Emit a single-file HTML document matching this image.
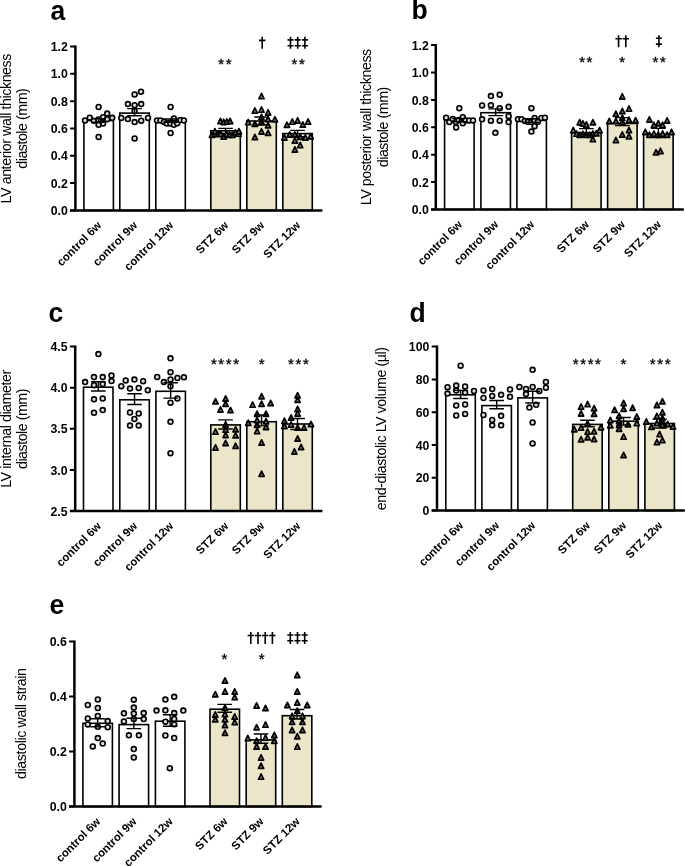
<!DOCTYPE html>
<html><head><meta charset="utf-8"><style>
html,body{margin:0;padding:0;background:#fff;}
svg{display:block;will-change:transform;}
text{font-family:"Liberation Sans", sans-serif;fill:#000;}
</style></head><body>
<svg width="685" height="866" viewBox="0 0 685 866">
<text transform="translate(50.6,19.8) scale(1,1.05)" font-size="26.5" font-weight="bold">a</text>
<text transform="translate(10.5,128.5) rotate(-90)" text-anchor="middle" font-size="14.2" textLength="149.8" lengthAdjust="spacing">LV anterior wall thickness</text>
<text transform="translate(27,128.5) rotate(-90)" text-anchor="middle" font-size="14.2" textLength="80.5" lengthAdjust="spacing">diastole (mm)</text>
<rect x="83.9" y="120.5" width="29.5" height="89.9" fill="white" stroke="#000" stroke-width="1.6"/>
<rect x="119.8" y="113.1" width="29.5" height="97.3" fill="white" stroke="#000" stroke-width="1.6"/>
<rect x="155.8" y="120.6" width="29.5" height="89.8" fill="white" stroke="#000" stroke-width="1.6"/>
<rect x="210.8" y="130.8" width="29.5" height="79.6" fill="#EBE5C9" stroke="#000" stroke-width="1.6"/>
<rect x="246.8" y="121" width="29.5" height="89.4" fill="#EBE5C9" stroke="#000" stroke-width="1.6"/>
<rect x="282.8" y="133.6" width="29.5" height="76.8" fill="#EBE5C9" stroke="#000" stroke-width="1.6"/>
<circle cx="98.6" cy="107" r="2.45" fill="#ddd" stroke="#000" stroke-width="1.6"/>
<circle cx="85" cy="120.4" r="2.45" fill="#ddd" stroke="#000" stroke-width="1.6"/>
<circle cx="89.7" cy="117.7" r="2.45" fill="#ddd" stroke="#000" stroke-width="1.6"/>
<circle cx="93.8" cy="120.7" r="2.45" fill="#ddd" stroke="#000" stroke-width="1.6"/>
<circle cx="98.4" cy="119.5" r="2.45" fill="#ddd" stroke="#000" stroke-width="1.6"/>
<circle cx="103.1" cy="117.2" r="2.45" fill="#ddd" stroke="#000" stroke-width="1.6"/>
<circle cx="103.1" cy="123.6" r="2.45" fill="#ddd" stroke="#000" stroke-width="1.6"/>
<circle cx="98.6" cy="124.8" r="2.45" fill="#ddd" stroke="#000" stroke-width="1.6"/>
<circle cx="107.2" cy="113.6" r="2.45" fill="#ddd" stroke="#000" stroke-width="1.6"/>
<circle cx="107.2" cy="119.2" r="2.45" fill="#ddd" stroke="#000" stroke-width="1.6"/>
<circle cx="112.2" cy="117.8" r="2.45" fill="#ddd" stroke="#000" stroke-width="1.6"/>
<circle cx="98.6" cy="137" r="2.45" fill="#ddd" stroke="#000" stroke-width="1.6"/>
<circle cx="141" cy="91.7" r="2.45" fill="#ddd" stroke="#000" stroke-width="1.6"/>
<circle cx="134.6" cy="94.5" r="2.45" fill="#ddd" stroke="#000" stroke-width="1.6"/>
<circle cx="127.9" cy="104.1" r="2.45" fill="#ddd" stroke="#000" stroke-width="1.6"/>
<circle cx="134.6" cy="105.2" r="2.45" fill="#ddd" stroke="#000" stroke-width="1.6"/>
<circle cx="141.2" cy="104.1" r="2.45" fill="#ddd" stroke="#000" stroke-width="1.6"/>
<circle cx="134.6" cy="111" r="2.45" fill="#ddd" stroke="#000" stroke-width="1.6"/>
<circle cx="121.3" cy="117.9" r="2.45" fill="#ddd" stroke="#000" stroke-width="1.6"/>
<circle cx="127.9" cy="119.1" r="2.45" fill="#ddd" stroke="#000" stroke-width="1.6"/>
<circle cx="134.6" cy="122.1" r="2.45" fill="#ddd" stroke="#000" stroke-width="1.6"/>
<circle cx="141.2" cy="120.7" r="2.45" fill="#ddd" stroke="#000" stroke-width="1.6"/>
<circle cx="148" cy="117.9" r="2.45" fill="#ddd" stroke="#000" stroke-width="1.6"/>
<circle cx="134.6" cy="138.4" r="2.45" fill="#ddd" stroke="#000" stroke-width="1.6"/>
<circle cx="170.6" cy="107" r="2.45" fill="#ddd" stroke="#000" stroke-width="1.6"/>
<circle cx="157" cy="120.4" r="2.45" fill="#ddd" stroke="#000" stroke-width="1.6"/>
<circle cx="160.5" cy="120.4" r="2.45" fill="#ddd" stroke="#000" stroke-width="1.6"/>
<circle cx="164" cy="121.9" r="2.45" fill="#ddd" stroke="#000" stroke-width="1.6"/>
<circle cx="166.9" cy="123.6" r="2.45" fill="#ddd" stroke="#000" stroke-width="1.6"/>
<circle cx="170.4" cy="123.6" r="2.45" fill="#ddd" stroke="#000" stroke-width="1.6"/>
<circle cx="173.9" cy="118.4" r="2.45" fill="#ddd" stroke="#000" stroke-width="1.6"/>
<circle cx="173.9" cy="124.8" r="2.45" fill="#ddd" stroke="#000" stroke-width="1.6"/>
<circle cx="177.2" cy="123.3" r="2.45" fill="#ddd" stroke="#000" stroke-width="1.6"/>
<circle cx="180.4" cy="120.1" r="2.45" fill="#ddd" stroke="#000" stroke-width="1.6"/>
<circle cx="183.9" cy="120.4" r="2.45" fill="#ddd" stroke="#000" stroke-width="1.6"/>
<circle cx="170.6" cy="133" r="2.45" fill="#ddd" stroke="#000" stroke-width="1.6"/>
<path d="M220.5 118.35L223.1 123.65L217.9 123.65Z" fill="#777" stroke="#000" stroke-width="1.7" stroke-linejoin="round"/>
<path d="M223.7 119.25L226.3 124.55L221.1 124.55Z" fill="#777" stroke="#000" stroke-width="1.7" stroke-linejoin="round"/>
<path d="M226.9 118.95L229.5 124.25L224.3 124.25Z" fill="#777" stroke="#000" stroke-width="1.7" stroke-linejoin="round"/>
<path d="M230.1 118.35L232.7 123.65L227.5 123.65Z" fill="#777" stroke="#000" stroke-width="1.7" stroke-linejoin="round"/>
<path d="M212 132.15L214.6 137.45L209.4 137.45Z" fill="#777" stroke="#000" stroke-width="1.7" stroke-linejoin="round"/>
<path d="M215.2 131.25L217.8 136.55L212.6 136.55Z" fill="#777" stroke="#000" stroke-width="1.7" stroke-linejoin="round"/>
<path d="M218.4 130.95L221 136.25L215.8 136.25Z" fill="#777" stroke="#000" stroke-width="1.7" stroke-linejoin="round"/>
<path d="M220.8 131.25L223.4 136.55L218.2 136.55Z" fill="#777" stroke="#000" stroke-width="1.7" stroke-linejoin="round"/>
<path d="M223.7 133.85L226.3 139.15L221.1 139.15Z" fill="#777" stroke="#000" stroke-width="1.7" stroke-linejoin="round"/>
<path d="M226.6 131.25L229.2 136.55L224 136.55Z" fill="#777" stroke="#000" stroke-width="1.7" stroke-linejoin="round"/>
<path d="M229.5 132.15L232.1 137.45L226.9 137.45Z" fill="#777" stroke="#000" stroke-width="1.7" stroke-linejoin="round"/>
<path d="M232.4 132.15L235 137.45L229.8 137.45Z" fill="#777" stroke="#000" stroke-width="1.7" stroke-linejoin="round"/>
<path d="M235.4 129.75L238 135.05L232.8 135.05Z" fill="#777" stroke="#000" stroke-width="1.7" stroke-linejoin="round"/>
<path d="M238.6 130.95L241.2 136.25L236 136.25Z" fill="#777" stroke="#000" stroke-width="1.7" stroke-linejoin="round"/>
<path d="M214.9 128.55L217.5 133.85L212.3 133.85Z" fill="#777" stroke="#000" stroke-width="1.7" stroke-linejoin="round"/>
<path d="M238.9 128.55L241.5 133.85L236.3 133.85Z" fill="#777" stroke="#000" stroke-width="1.7" stroke-linejoin="round"/>
<path d="M261.5 93.45L264.1 98.75L258.9 98.75Z" fill="#777" stroke="#000" stroke-width="1.7" stroke-linejoin="round"/>
<path d="M254.9 107.95L257.5 113.25L252.3 113.25Z" fill="#777" stroke="#000" stroke-width="1.7" stroke-linejoin="round"/>
<path d="M261.5 106.95L264.1 112.25L258.9 112.25Z" fill="#777" stroke="#000" stroke-width="1.7" stroke-linejoin="round"/>
<path d="M268.1 109.75L270.7 115.05L265.5 115.05Z" fill="#777" stroke="#000" stroke-width="1.7" stroke-linejoin="round"/>
<path d="M261.5 114.25L264.1 119.55L258.9 119.55Z" fill="#777" stroke="#000" stroke-width="1.7" stroke-linejoin="round"/>
<path d="M268.1 116.35L270.7 121.65L265.5 121.65Z" fill="#777" stroke="#000" stroke-width="1.7" stroke-linejoin="round"/>
<path d="M274.9 116.65L277.5 121.95L272.3 121.95Z" fill="#777" stroke="#000" stroke-width="1.7" stroke-linejoin="round"/>
<path d="M248.2 119.45L250.8 124.75L245.6 124.75Z" fill="#777" stroke="#000" stroke-width="1.7" stroke-linejoin="round"/>
<path d="M254.9 121.15L257.5 126.45L252.3 126.45Z" fill="#777" stroke="#000" stroke-width="1.7" stroke-linejoin="round"/>
<path d="M261.5 119.05L264.1 124.35L258.9 124.35Z" fill="#777" stroke="#000" stroke-width="1.7" stroke-linejoin="round"/>
<path d="M268.1 122.55L270.7 127.85L265.5 127.85Z" fill="#777" stroke="#000" stroke-width="1.7" stroke-linejoin="round"/>
<path d="M261.5 128.75L264.1 134.05L258.9 134.05Z" fill="#777" stroke="#000" stroke-width="1.7" stroke-linejoin="round"/>
<path d="M268.1 130.15L270.7 135.45L265.5 135.45Z" fill="#777" stroke="#000" stroke-width="1.7" stroke-linejoin="round"/>
<path d="M254.9 134.35L257.5 139.65L252.3 139.65Z" fill="#777" stroke="#000" stroke-width="1.7" stroke-linejoin="round"/>
<path d="M287 122.15L289.6 127.45L284.4 127.45Z" fill="#777" stroke="#000" stroke-width="1.7" stroke-linejoin="round"/>
<path d="M292.3 118.95L294.9 124.25L289.7 124.25Z" fill="#777" stroke="#000" stroke-width="1.7" stroke-linejoin="round"/>
<path d="M297.6 117.75L300.2 123.05L295 123.05Z" fill="#777" stroke="#000" stroke-width="1.7" stroke-linejoin="round"/>
<path d="M302.8 121.85L305.4 127.15L300.2 127.15Z" fill="#777" stroke="#000" stroke-width="1.7" stroke-linejoin="round"/>
<path d="M308.1 118.95L310.7 124.25L305.5 124.25Z" fill="#777" stroke="#000" stroke-width="1.7" stroke-linejoin="round"/>
<path d="M284.4 134.75L287 140.05L281.8 140.05Z" fill="#777" stroke="#000" stroke-width="1.7" stroke-linejoin="round"/>
<path d="M289.7 131.85L292.3 137.15L287.1 137.15Z" fill="#777" stroke="#000" stroke-width="1.7" stroke-linejoin="round"/>
<path d="M294.9 131.85L297.5 137.15L292.3 137.15Z" fill="#777" stroke="#000" stroke-width="1.7" stroke-linejoin="round"/>
<path d="M300.2 134.15L302.8 139.45L297.6 139.45Z" fill="#777" stroke="#000" stroke-width="1.7" stroke-linejoin="round"/>
<path d="M305.4 134.75L308 140.05L302.8 140.05Z" fill="#777" stroke="#000" stroke-width="1.7" stroke-linejoin="round"/>
<path d="M310.7 133.55L313.3 138.85L308.1 138.85Z" fill="#777" stroke="#000" stroke-width="1.7" stroke-linejoin="round"/>
<path d="M294.9 137.85L297.5 143.15L292.3 143.15Z" fill="#777" stroke="#000" stroke-width="1.7" stroke-linejoin="round"/>
<path d="M300.2 142.45L302.8 147.75L297.6 147.75Z" fill="#777" stroke="#000" stroke-width="1.7" stroke-linejoin="round"/>
<path d="M294.9 146.85L297.5 152.15L292.3 152.15Z" fill="#777" stroke="#000" stroke-width="1.7" stroke-linejoin="round"/>
<path d="M98.65 118.8V122.2M91.35 118.8H105.95M91.35 122.2H105.95" stroke="#000" stroke-width="1.4" fill="none"/>
<path d="M134.55 108.6V115.8M127.25 108.6H141.85M127.25 115.8H141.85" stroke="#000" stroke-width="1.4" fill="none"/>
<path d="M170.55 119V122.4M163.25 119H177.85M163.25 122.4H177.85" stroke="#000" stroke-width="1.4" fill="none"/>
<path d="M225.55 128.4V133.4M218.25 128.4H232.85M218.25 133.4H232.85" stroke="#000" stroke-width="1.4" fill="none"/>
<path d="M261.55 117V125M254.25 117H268.85M254.25 125H268.85" stroke="#000" stroke-width="1.4" fill="none"/>
<path d="M297.55 130.4V136.6M290.25 130.4H304.85M290.25 136.6H304.85" stroke="#000" stroke-width="1.4" fill="none"/>
<path d="M75.4 45.5V210.4M70.1 210.4H322.4" stroke="#000" stroke-width="2.5" fill="none" stroke-linecap="butt"/>
<text x="67.8" y="215" text-anchor="end" font-size="12.3" font-weight="bold">0.0</text>
<text x="67.8" y="187.68" text-anchor="end" font-size="12.3" font-weight="bold">0.2</text>
<text x="67.8" y="160.37" text-anchor="end" font-size="12.3" font-weight="bold">0.4</text>
<text x="67.8" y="133.05" text-anchor="end" font-size="12.3" font-weight="bold">0.6</text>
<text x="67.8" y="105.73" text-anchor="end" font-size="12.3" font-weight="bold">0.8</text>
<text x="67.8" y="78.42" text-anchor="end" font-size="12.3" font-weight="bold">1.0</text>
<text x="67.8" y="51.1" text-anchor="end" font-size="12.3" font-weight="bold">1.2</text>
<path d="M70.1 210.4H75.4M70.1 183.08H75.4M70.1 155.77H75.4M70.1 128.45H75.4M70.1 101.13H75.4M70.1 73.82H75.4M70.1 46.5H75.4" stroke="#000" stroke-width="2" fill="none"/>
<text transform="translate(102.15,226) rotate(-45)" text-anchor="end" font-size="11.5" font-weight="bold">control 6w</text>
<text transform="translate(138.05,226) rotate(-45)" text-anchor="end" font-size="11.5" font-weight="bold">control 9w</text>
<text transform="translate(174.05,226) rotate(-45)" text-anchor="end" font-size="11.5" font-weight="bold">control 12w</text>
<text transform="translate(229.05,226) rotate(-45)" text-anchor="end" font-size="11.5" font-weight="bold">STZ 6w</text>
<text transform="translate(265.05,226) rotate(-45)" text-anchor="end" font-size="11.5" font-weight="bold">STZ 9w</text>
<text transform="translate(301.05,226) rotate(-45)" text-anchor="end" font-size="11.5" font-weight="bold">STZ 12w</text>
<text x="225.8" y="69.3" text-anchor="middle" font-size="15.0" font-weight="normal" letter-spacing="1.6" stroke="#000" stroke-width="0.35">**</text>
<path d="M262.2 36.8V48.8M259 40.4H265.4" stroke="#000" stroke-width="1.6" fill="none"/>
<path d="M290.5 36.8V48.8M287.5 39.92H293.5M287.5 45.68H293.5M297.7 36.8V48.8M294.7 39.92H300.7M294.7 45.68H300.7M304.9 36.8V48.8M301.9 39.92H307.9M301.9 45.68H307.9" stroke="#000" stroke-width="1.6" fill="none"/>
<text x="298.9" y="69.3" text-anchor="middle" font-size="15.0" font-weight="normal" letter-spacing="1.6" stroke="#000" stroke-width="0.35">**</text>
<text transform="translate(411.4,19.2) scale(1,1.05)" font-size="26.5" font-weight="bold">b</text>
<text transform="translate(370.8,127) rotate(-90)" text-anchor="middle" font-size="14.2" textLength="156.4" lengthAdjust="spacing">LV posterior wall thickness</text>
<text transform="translate(387.5,127) rotate(-90)" text-anchor="middle" font-size="14.2" textLength="80.5" lengthAdjust="spacing">diastole (mm)</text>
<rect x="444.6" y="120" width="29.5" height="89.5" fill="white" stroke="#000" stroke-width="1.6"/>
<rect x="480.9" y="112.7" width="29.5" height="96.8" fill="white" stroke="#000" stroke-width="1.6"/>
<rect x="516.9" y="120.4" width="29.5" height="89.1" fill="white" stroke="#000" stroke-width="1.6"/>
<rect x="571.6" y="132.7" width="29.5" height="76.8" fill="#EBE5C9" stroke="#000" stroke-width="1.6"/>
<rect x="607.6" y="123.4" width="29.5" height="86.1" fill="#EBE5C9" stroke="#000" stroke-width="1.6"/>
<rect x="643.6" y="134.2" width="29.5" height="75.3" fill="#EBE5C9" stroke="#000" stroke-width="1.6"/>
<circle cx="459.3" cy="108.2" r="2.45" fill="#ddd" stroke="#000" stroke-width="1.6"/>
<circle cx="446.1" cy="117.7" r="2.45" fill="#ddd" stroke="#000" stroke-width="1.6"/>
<circle cx="449.3" cy="122.1" r="2.45" fill="#ddd" stroke="#000" stroke-width="1.6"/>
<circle cx="452.8" cy="118.9" r="2.45" fill="#ddd" stroke="#000" stroke-width="1.6"/>
<circle cx="455.8" cy="122.1" r="2.45" fill="#ddd" stroke="#000" stroke-width="1.6"/>
<circle cx="458.7" cy="120.1" r="2.45" fill="#ddd" stroke="#000" stroke-width="1.6"/>
<circle cx="462.8" cy="117.2" r="2.45" fill="#ddd" stroke="#000" stroke-width="1.6"/>
<circle cx="462.8" cy="123.3" r="2.45" fill="#ddd" stroke="#000" stroke-width="1.6"/>
<circle cx="456.1" cy="127.4" r="2.45" fill="#ddd" stroke="#000" stroke-width="1.6"/>
<circle cx="465.7" cy="120.4" r="2.45" fill="#ddd" stroke="#000" stroke-width="1.6"/>
<circle cx="469.2" cy="120.4" r="2.45" fill="#ddd" stroke="#000" stroke-width="1.6"/>
<circle cx="473" cy="120.4" r="2.45" fill="#ddd" stroke="#000" stroke-width="1.6"/>
<circle cx="490.9" cy="96.1" r="2.45" fill="#ddd" stroke="#000" stroke-width="1.6"/>
<circle cx="499.7" cy="94.7" r="2.45" fill="#ddd" stroke="#000" stroke-width="1.6"/>
<circle cx="482.1" cy="105.4" r="2.45" fill="#ddd" stroke="#000" stroke-width="1.6"/>
<circle cx="490.9" cy="105.2" r="2.45" fill="#ddd" stroke="#000" stroke-width="1.6"/>
<circle cx="499.7" cy="108.2" r="2.45" fill="#ddd" stroke="#000" stroke-width="1.6"/>
<circle cx="508.6" cy="106.8" r="2.45" fill="#ddd" stroke="#000" stroke-width="1.6"/>
<circle cx="482.1" cy="119.3" r="2.45" fill="#ddd" stroke="#000" stroke-width="1.6"/>
<circle cx="490.9" cy="120.7" r="2.45" fill="#ddd" stroke="#000" stroke-width="1.6"/>
<circle cx="499.7" cy="120.7" r="2.45" fill="#ddd" stroke="#000" stroke-width="1.6"/>
<circle cx="508.6" cy="116.2" r="2.45" fill="#ddd" stroke="#000" stroke-width="1.6"/>
<circle cx="508.6" cy="122.1" r="2.45" fill="#ddd" stroke="#000" stroke-width="1.6"/>
<circle cx="495.4" cy="132.8" r="2.45" fill="#ddd" stroke="#000" stroke-width="1.6"/>
<circle cx="531.4" cy="108.2" r="2.45" fill="#ddd" stroke="#000" stroke-width="1.6"/>
<circle cx="518" cy="119.2" r="2.45" fill="#ddd" stroke="#000" stroke-width="1.6"/>
<circle cx="521.5" cy="119.2" r="2.45" fill="#ddd" stroke="#000" stroke-width="1.6"/>
<circle cx="525" cy="121" r="2.45" fill="#ddd" stroke="#000" stroke-width="1.6"/>
<circle cx="527.9" cy="121.8" r="2.45" fill="#ddd" stroke="#000" stroke-width="1.6"/>
<circle cx="531.4" cy="122.1" r="2.45" fill="#ddd" stroke="#000" stroke-width="1.6"/>
<circle cx="534.6" cy="118" r="2.45" fill="#ddd" stroke="#000" stroke-width="1.6"/>
<circle cx="534.6" cy="121" r="2.45" fill="#ddd" stroke="#000" stroke-width="1.6"/>
<circle cx="537.9" cy="121.8" r="2.45" fill="#ddd" stroke="#000" stroke-width="1.6"/>
<circle cx="541.4" cy="118" r="2.45" fill="#ddd" stroke="#000" stroke-width="1.6"/>
<circle cx="544.9" cy="117.7" r="2.45" fill="#ddd" stroke="#000" stroke-width="1.6"/>
<circle cx="534.6" cy="126.2" r="2.45" fill="#ddd" stroke="#000" stroke-width="1.6"/>
<circle cx="531.4" cy="131.6" r="2.45" fill="#ddd" stroke="#000" stroke-width="1.6"/>
<path d="M579.7 119.55L582.3 124.85L577.1 124.85Z" fill="#777" stroke="#000" stroke-width="1.7" stroke-linejoin="round"/>
<path d="M582.9 120.75L585.5 126.05L580.3 126.05Z" fill="#777" stroke="#000" stroke-width="1.7" stroke-linejoin="round"/>
<path d="M586.4 121.85L589 127.15L583.8 127.15Z" fill="#777" stroke="#000" stroke-width="1.7" stroke-linejoin="round"/>
<path d="M592.9 119.55L595.5 124.85L590.3 124.85Z" fill="#777" stroke="#000" stroke-width="1.7" stroke-linejoin="round"/>
<path d="M573.3 127.45L575.9 132.75L570.7 132.75Z" fill="#777" stroke="#000" stroke-width="1.7" stroke-linejoin="round"/>
<path d="M599.6 127.45L602.2 132.75L597 132.75Z" fill="#777" stroke="#000" stroke-width="1.7" stroke-linejoin="round"/>
<path d="M576.5 130.95L579.1 136.25L573.9 136.25Z" fill="#777" stroke="#000" stroke-width="1.7" stroke-linejoin="round"/>
<path d="M579.7 132.05L582.3 137.35L577.1 137.35Z" fill="#777" stroke="#000" stroke-width="1.7" stroke-linejoin="round"/>
<path d="M582.9 131.25L585.5 136.55L580.3 136.55Z" fill="#777" stroke="#000" stroke-width="1.7" stroke-linejoin="round"/>
<path d="M586.1 132.05L588.7 137.35L583.5 137.35Z" fill="#777" stroke="#000" stroke-width="1.7" stroke-linejoin="round"/>
<path d="M589.6 132.05L592.2 137.35L587 137.35Z" fill="#777" stroke="#000" stroke-width="1.7" stroke-linejoin="round"/>
<path d="M592.9 130.95L595.5 136.25L590.3 136.25Z" fill="#777" stroke="#000" stroke-width="1.7" stroke-linejoin="round"/>
<path d="M596.4 130.65L599 135.95L593.8 135.95Z" fill="#777" stroke="#000" stroke-width="1.7" stroke-linejoin="round"/>
<path d="M592.9 136.45L595.5 141.75L590.3 141.75Z" fill="#777" stroke="#000" stroke-width="1.7" stroke-linejoin="round"/>
<path d="M622.3 93.75L624.9 99.05L619.7 99.05Z" fill="#777" stroke="#000" stroke-width="1.7" stroke-linejoin="round"/>
<path d="M629 105.95L631.6 111.25L626.4 111.25Z" fill="#777" stroke="#000" stroke-width="1.7" stroke-linejoin="round"/>
<path d="M622.3 108.35L624.9 113.65L619.7 113.65Z" fill="#777" stroke="#000" stroke-width="1.7" stroke-linejoin="round"/>
<path d="M615.9 111.15L618.5 116.45L613.3 116.45Z" fill="#777" stroke="#000" stroke-width="1.7" stroke-linejoin="round"/>
<path d="M622.3 114.95L624.9 120.25L619.7 120.25Z" fill="#777" stroke="#000" stroke-width="1.7" stroke-linejoin="round"/>
<path d="M629 117.05L631.6 122.35L626.4 122.35Z" fill="#777" stroke="#000" stroke-width="1.7" stroke-linejoin="round"/>
<path d="M609.3 118.35L611.9 123.65L606.7 123.65Z" fill="#777" stroke="#000" stroke-width="1.7" stroke-linejoin="round"/>
<path d="M615.9 118.35L618.5 123.65L613.3 123.65Z" fill="#777" stroke="#000" stroke-width="1.7" stroke-linejoin="round"/>
<path d="M622.3 119.05L624.9 124.35L619.7 124.35Z" fill="#777" stroke="#000" stroke-width="1.7" stroke-linejoin="round"/>
<path d="M635.6 117.65L638.2 122.95L633 122.95Z" fill="#777" stroke="#000" stroke-width="1.7" stroke-linejoin="round"/>
<path d="M629 127.35L631.6 132.65L626.4 132.65Z" fill="#777" stroke="#000" stroke-width="1.7" stroke-linejoin="round"/>
<path d="M622.3 131.85L624.9 137.15L619.7 137.15Z" fill="#777" stroke="#000" stroke-width="1.7" stroke-linejoin="round"/>
<path d="M629 133.65L631.6 138.95L626.4 138.95Z" fill="#777" stroke="#000" stroke-width="1.7" stroke-linejoin="round"/>
<path d="M615.9 137.45L618.5 142.75L613.3 142.75Z" fill="#777" stroke="#000" stroke-width="1.7" stroke-linejoin="round"/>
<path d="M649.4 116.75L652 122.05L646.8 122.05Z" fill="#777" stroke="#000" stroke-width="1.7" stroke-linejoin="round"/>
<path d="M667.1 117.75L669.7 123.05L664.5 123.05Z" fill="#777" stroke="#000" stroke-width="1.7" stroke-linejoin="round"/>
<path d="M653.9 122.25L656.5 127.55L651.3 127.55Z" fill="#777" stroke="#000" stroke-width="1.7" stroke-linejoin="round"/>
<path d="M658.3 120.55L660.9 125.85L655.7 125.85Z" fill="#777" stroke="#000" stroke-width="1.7" stroke-linejoin="round"/>
<path d="M662.6 122.25L665.2 127.55L660 127.55Z" fill="#777" stroke="#000" stroke-width="1.7" stroke-linejoin="round"/>
<path d="M645.3 129.25L647.9 134.55L642.7 134.55Z" fill="#777" stroke="#000" stroke-width="1.7" stroke-linejoin="round"/>
<path d="M671.6 129.25L674.2 134.55L669 134.55Z" fill="#777" stroke="#000" stroke-width="1.7" stroke-linejoin="round"/>
<path d="M649.4 132.05L652 137.35L646.8 137.35Z" fill="#777" stroke="#000" stroke-width="1.7" stroke-linejoin="round"/>
<path d="M653.9 130.95L656.5 136.25L651.3 136.25Z" fill="#777" stroke="#000" stroke-width="1.7" stroke-linejoin="round"/>
<path d="M658.3 132.05L660.9 137.35L655.7 137.35Z" fill="#777" stroke="#000" stroke-width="1.7" stroke-linejoin="round"/>
<path d="M662.6 130.95L665.2 136.25L660 136.25Z" fill="#777" stroke="#000" stroke-width="1.7" stroke-linejoin="round"/>
<path d="M667.1 132.05L669.7 137.35L664.5 137.35Z" fill="#777" stroke="#000" stroke-width="1.7" stroke-linejoin="round"/>
<path d="M656 149.65L658.6 154.95L653.4 154.95Z" fill="#777" stroke="#000" stroke-width="1.7" stroke-linejoin="round"/>
<path d="M660.5 148.25L663.1 153.55L657.9 153.55Z" fill="#777" stroke="#000" stroke-width="1.7" stroke-linejoin="round"/>
<path d="M459.35 118.4V121.8M452.05 118.4H466.65M452.05 121.8H466.65" stroke="#000" stroke-width="1.4" fill="none"/>
<path d="M495.65 108.9V115.6M488.35 108.9H502.95M488.35 115.6H502.95" stroke="#000" stroke-width="1.4" fill="none"/>
<path d="M531.65 118.6V122.2M524.35 118.6H538.95M524.35 122.2H538.95" stroke="#000" stroke-width="1.4" fill="none"/>
<path d="M586.35 128.6V135M579.05 128.6H593.65M579.05 135H593.65" stroke="#000" stroke-width="1.4" fill="none"/>
<path d="M622.35 117.6V125.6M615.05 117.6H629.65M615.05 125.6H629.65" stroke="#000" stroke-width="1.4" fill="none"/>
<path d="M658.35 128.4V137.6M651.05 128.4H665.65M651.05 137.6H665.65" stroke="#000" stroke-width="1.4" fill="none"/>
<path d="M435.8 44.1V209.5M431.1 209.5H683.8" stroke="#000" stroke-width="2.5" fill="none" stroke-linecap="butt"/>
<text x="428.8" y="214.1" text-anchor="end" font-size="12.3" font-weight="bold">0.0</text>
<text x="428.8" y="186.7" text-anchor="end" font-size="12.3" font-weight="bold">0.2</text>
<text x="428.8" y="159.3" text-anchor="end" font-size="12.3" font-weight="bold">0.4</text>
<text x="428.8" y="131.9" text-anchor="end" font-size="12.3" font-weight="bold">0.6</text>
<text x="428.8" y="104.5" text-anchor="end" font-size="12.3" font-weight="bold">0.8</text>
<text x="428.8" y="77.1" text-anchor="end" font-size="12.3" font-weight="bold">1.0</text>
<text x="428.8" y="49.7" text-anchor="end" font-size="12.3" font-weight="bold">1.2</text>
<path d="M431.1 209.5H435.8M431.1 182.1H435.8M431.1 154.7H435.8M431.1 127.3H435.8M431.1 99.9H435.8M431.1 72.5H435.8M431.1 45.1H435.8" stroke="#000" stroke-width="2" fill="none"/>
<text transform="translate(462.85,225.1) rotate(-45)" text-anchor="end" font-size="11.5" font-weight="bold">control 6w</text>
<text transform="translate(499.15,225.1) rotate(-45)" text-anchor="end" font-size="11.5" font-weight="bold">control 9w</text>
<text transform="translate(535.15,225.1) rotate(-45)" text-anchor="end" font-size="11.5" font-weight="bold">control 12w</text>
<text transform="translate(589.85,225.1) rotate(-45)" text-anchor="end" font-size="11.5" font-weight="bold">STZ 6w</text>
<text transform="translate(625.85,225.1) rotate(-45)" text-anchor="end" font-size="11.5" font-weight="bold">STZ 9w</text>
<text transform="translate(661.85,225.1) rotate(-45)" text-anchor="end" font-size="11.5" font-weight="bold">STZ 12w</text>
<text x="586.6" y="67" text-anchor="middle" font-size="15.0" font-weight="normal" letter-spacing="1.6" stroke="#000" stroke-width="0.35">**</text>
<text x="623" y="67" text-anchor="middle" font-size="15.0" font-weight="normal" letter-spacing="1.6" stroke="#000" stroke-width="0.35">*</text>
<text x="659.9" y="67" text-anchor="middle" font-size="15.0" font-weight="normal" letter-spacing="1.6" stroke="#000" stroke-width="0.35">**</text>
<path d="M618.6 35.2V47.2M615.4 38.8H621.8M625.8 35.2V47.2M622.6 38.8H629" stroke="#000" stroke-width="1.6" fill="none"/>
<path d="M658.9 35.2V47.2M655.9 38.32H661.9M655.9 44.08H661.9" stroke="#000" stroke-width="1.6" fill="none"/>
<text transform="translate(48.4,321.6) scale(1,1.05)" font-size="26.5" font-weight="bold">c</text>
<text transform="translate(10.5,428.8) rotate(-90)" text-anchor="middle" font-size="14.2" textLength="118.0" lengthAdjust="spacing">LV internal diameter</text>
<text transform="translate(27,428.8) rotate(-90)" text-anchor="middle" font-size="14.2" textLength="80.5" lengthAdjust="spacing">diastole (mm)</text>
<rect x="83.5" y="387.2" width="29.5" height="123.8" fill="white" stroke="#000" stroke-width="1.6"/>
<rect x="119.8" y="399.8" width="29.5" height="111.2" fill="white" stroke="#000" stroke-width="1.6"/>
<rect x="155.9" y="391.3" width="29.5" height="119.7" fill="white" stroke="#000" stroke-width="1.6"/>
<rect x="210.8" y="424.9" width="29.5" height="86.1" fill="#EBE5C9" stroke="#000" stroke-width="1.6"/>
<rect x="246.8" y="421.7" width="29.5" height="89.3" fill="#EBE5C9" stroke="#000" stroke-width="1.6"/>
<rect x="282.8" y="424" width="29.5" height="87" fill="#EBE5C9" stroke="#000" stroke-width="1.6"/>
<circle cx="98.4" cy="354.1" r="2.45" fill="#ddd" stroke="#000" stroke-width="1.6"/>
<circle cx="85.1" cy="382.1" r="2.45" fill="#ddd" stroke="#000" stroke-width="1.6"/>
<circle cx="94" cy="377.1" r="2.45" fill="#ddd" stroke="#000" stroke-width="1.6"/>
<circle cx="102.7" cy="377.1" r="2.45" fill="#ddd" stroke="#000" stroke-width="1.6"/>
<circle cx="111.5" cy="375.5" r="2.45" fill="#ddd" stroke="#000" stroke-width="1.6"/>
<circle cx="111.5" cy="381.1" r="2.45" fill="#ddd" stroke="#000" stroke-width="1.6"/>
<circle cx="94" cy="385.2" r="2.45" fill="#ddd" stroke="#000" stroke-width="1.6"/>
<circle cx="102.7" cy="384" r="2.45" fill="#ddd" stroke="#000" stroke-width="1.6"/>
<circle cx="94" cy="399.3" r="2.45" fill="#ddd" stroke="#000" stroke-width="1.6"/>
<circle cx="102.7" cy="398.5" r="2.45" fill="#ddd" stroke="#000" stroke-width="1.6"/>
<circle cx="94" cy="412.7" r="2.45" fill="#ddd" stroke="#000" stroke-width="1.6"/>
<circle cx="102.7" cy="410.1" r="2.45" fill="#ddd" stroke="#000" stroke-width="1.6"/>
<circle cx="125.7" cy="380.4" r="2.45" fill="#ddd" stroke="#000" stroke-width="1.6"/>
<circle cx="134.4" cy="379.6" r="2.45" fill="#ddd" stroke="#000" stroke-width="1.6"/>
<circle cx="143.1" cy="381.2" r="2.45" fill="#ddd" stroke="#000" stroke-width="1.6"/>
<circle cx="121.3" cy="386.2" r="2.45" fill="#ddd" stroke="#000" stroke-width="1.6"/>
<circle cx="130" cy="388.6" r="2.45" fill="#ddd" stroke="#000" stroke-width="1.6"/>
<circle cx="138.7" cy="388" r="2.45" fill="#ddd" stroke="#000" stroke-width="1.6"/>
<circle cx="147.8" cy="390.2" r="2.45" fill="#ddd" stroke="#000" stroke-width="1.6"/>
<circle cx="130" cy="412.5" r="2.45" fill="#ddd" stroke="#000" stroke-width="1.6"/>
<circle cx="138.7" cy="413.5" r="2.45" fill="#ddd" stroke="#000" stroke-width="1.6"/>
<circle cx="134.4" cy="419" r="2.45" fill="#ddd" stroke="#000" stroke-width="1.6"/>
<circle cx="130" cy="425.6" r="2.45" fill="#ddd" stroke="#000" stroke-width="1.6"/>
<circle cx="138.7" cy="425.6" r="2.45" fill="#ddd" stroke="#000" stroke-width="1.6"/>
<circle cx="170.5" cy="358.3" r="2.45" fill="#ddd" stroke="#000" stroke-width="1.6"/>
<circle cx="170.5" cy="372.2" r="2.45" fill="#ddd" stroke="#000" stroke-width="1.6"/>
<circle cx="157.2" cy="377" r="2.45" fill="#ddd" stroke="#000" stroke-width="1.6"/>
<circle cx="170.5" cy="379.4" r="2.45" fill="#ddd" stroke="#000" stroke-width="1.6"/>
<circle cx="177.4" cy="378" r="2.45" fill="#ddd" stroke="#000" stroke-width="1.6"/>
<circle cx="183.9" cy="377.3" r="2.45" fill="#ddd" stroke="#000" stroke-width="1.6"/>
<circle cx="163.9" cy="382.1" r="2.45" fill="#ddd" stroke="#000" stroke-width="1.6"/>
<circle cx="170.5" cy="386.3" r="2.45" fill="#ddd" stroke="#000" stroke-width="1.6"/>
<circle cx="177.4" cy="398.5" r="2.45" fill="#ddd" stroke="#000" stroke-width="1.6"/>
<circle cx="170.5" cy="402.7" r="2.45" fill="#ddd" stroke="#000" stroke-width="1.6"/>
<circle cx="170.5" cy="421.8" r="2.45" fill="#ddd" stroke="#000" stroke-width="1.6"/>
<circle cx="170.5" cy="453.2" r="2.45" fill="#ddd" stroke="#000" stroke-width="1.6"/>
<path d="M225.6 395.85L228.2 401.15L223 401.15Z" fill="#777" stroke="#000" stroke-width="1.7" stroke-linejoin="round"/>
<path d="M215.5 398.65L218.1 403.95L212.9 403.95Z" fill="#777" stroke="#000" stroke-width="1.7" stroke-linejoin="round"/>
<path d="M225.6 401.05L228.2 406.35L223 406.35Z" fill="#777" stroke="#000" stroke-width="1.7" stroke-linejoin="round"/>
<path d="M220.5 406.75L223.1 412.05L217.9 412.05Z" fill="#777" stroke="#000" stroke-width="1.7" stroke-linejoin="round"/>
<path d="M230.5 407.35L233.1 412.65L227.9 412.65Z" fill="#777" stroke="#000" stroke-width="1.7" stroke-linejoin="round"/>
<path d="M225.6 421.75L228.2 427.05L223 427.05Z" fill="#777" stroke="#000" stroke-width="1.7" stroke-linejoin="round"/>
<path d="M215.5 428.95L218.1 434.25L212.9 434.25Z" fill="#777" stroke="#000" stroke-width="1.7" stroke-linejoin="round"/>
<path d="M225.6 426.95L228.2 432.25L223 432.25Z" fill="#777" stroke="#000" stroke-width="1.7" stroke-linejoin="round"/>
<path d="M235.6 426.55L238.2 431.85L233 431.85Z" fill="#777" stroke="#000" stroke-width="1.7" stroke-linejoin="round"/>
<path d="M225.6 432.25L228.2 437.55L223 437.55Z" fill="#777" stroke="#000" stroke-width="1.7" stroke-linejoin="round"/>
<path d="M235.6 432.65L238.2 437.95L233 437.95Z" fill="#777" stroke="#000" stroke-width="1.7" stroke-linejoin="round"/>
<path d="M225.6 440.35L228.2 445.65L223 445.65Z" fill="#777" stroke="#000" stroke-width="1.7" stroke-linejoin="round"/>
<path d="M215.5 444.75L218.1 450.05L212.9 450.05Z" fill="#777" stroke="#000" stroke-width="1.7" stroke-linejoin="round"/>
<path d="M235.6 443.15L238.2 448.45L233 448.45Z" fill="#777" stroke="#000" stroke-width="1.7" stroke-linejoin="round"/>
<path d="M261.6 393.55L264.2 398.85L259 398.85Z" fill="#777" stroke="#000" stroke-width="1.7" stroke-linejoin="round"/>
<path d="M252.6 401.95L255.2 407.25L250 407.25Z" fill="#777" stroke="#000" stroke-width="1.7" stroke-linejoin="round"/>
<path d="M261.6 401.05L264.2 406.35L259 406.35Z" fill="#777" stroke="#000" stroke-width="1.7" stroke-linejoin="round"/>
<path d="M270.6 400.35L273.2 405.65L268 405.65Z" fill="#777" stroke="#000" stroke-width="1.7" stroke-linejoin="round"/>
<path d="M257.1 411.05L259.7 416.35L254.5 416.35Z" fill="#777" stroke="#000" stroke-width="1.7" stroke-linejoin="round"/>
<path d="M266 411.05L268.6 416.35L263.4 416.35Z" fill="#777" stroke="#000" stroke-width="1.7" stroke-linejoin="round"/>
<path d="M248.3 420.05L250.9 425.35L245.7 425.35Z" fill="#777" stroke="#000" stroke-width="1.7" stroke-linejoin="round"/>
<path d="M257.1 417.45L259.7 422.75L254.5 422.75Z" fill="#777" stroke="#000" stroke-width="1.7" stroke-linejoin="round"/>
<path d="M257.1 422.15L259.7 427.45L254.5 427.45Z" fill="#777" stroke="#000" stroke-width="1.7" stroke-linejoin="round"/>
<path d="M266 418.55L268.6 423.85L263.4 423.85Z" fill="#777" stroke="#000" stroke-width="1.7" stroke-linejoin="round"/>
<path d="M266 424.25L268.6 429.55L263.4 429.55Z" fill="#777" stroke="#000" stroke-width="1.7" stroke-linejoin="round"/>
<path d="M257.1 428.45L259.7 433.75L254.5 433.75Z" fill="#777" stroke="#000" stroke-width="1.7" stroke-linejoin="round"/>
<path d="M261.6 439.85L264.2 445.15L259 445.15Z" fill="#777" stroke="#000" stroke-width="1.7" stroke-linejoin="round"/>
<path d="M261.6 471.05L264.2 476.35L259 476.35Z" fill="#777" stroke="#000" stroke-width="1.7" stroke-linejoin="round"/>
<path d="M297.6 392.65L300.2 397.95L295 397.95Z" fill="#777" stroke="#000" stroke-width="1.7" stroke-linejoin="round"/>
<path d="M297.6 397.05L300.2 402.35L295 402.35Z" fill="#777" stroke="#000" stroke-width="1.7" stroke-linejoin="round"/>
<path d="M297.6 406.35L300.2 411.65L295 411.65Z" fill="#777" stroke="#000" stroke-width="1.7" stroke-linejoin="round"/>
<path d="M297.6 410.75L300.2 416.05L295 416.05Z" fill="#777" stroke="#000" stroke-width="1.7" stroke-linejoin="round"/>
<path d="M291.1 414.85L293.7 420.15L288.5 420.15Z" fill="#777" stroke="#000" stroke-width="1.7" stroke-linejoin="round"/>
<path d="M284.4 418.05L287 423.35L281.8 423.35Z" fill="#777" stroke="#000" stroke-width="1.7" stroke-linejoin="round"/>
<path d="M284.4 423.35L287 428.65L281.8 428.65Z" fill="#777" stroke="#000" stroke-width="1.7" stroke-linejoin="round"/>
<path d="M291.1 421.75L293.7 427.05L288.5 427.05Z" fill="#777" stroke="#000" stroke-width="1.7" stroke-linejoin="round"/>
<path d="M311 421.35L313.6 426.65L308.4 426.65Z" fill="#777" stroke="#000" stroke-width="1.7" stroke-linejoin="round"/>
<path d="M297.6 424.95L300.2 430.25L295 430.25Z" fill="#777" stroke="#000" stroke-width="1.7" stroke-linejoin="round"/>
<path d="M304.1 424.95L306.7 430.25L301.5 430.25Z" fill="#777" stroke="#000" stroke-width="1.7" stroke-linejoin="round"/>
<path d="M297.6 435.85L300.2 441.15L295 441.15Z" fill="#777" stroke="#000" stroke-width="1.7" stroke-linejoin="round"/>
<path d="M301.1 444.35L303.7 449.65L298.5 449.65Z" fill="#777" stroke="#000" stroke-width="1.7" stroke-linejoin="round"/>
<path d="M294.4 448.75L297 454.05L291.8 454.05Z" fill="#777" stroke="#000" stroke-width="1.7" stroke-linejoin="round"/>
<path d="M98.25 381.8V391M90.95 381.8H105.55M90.95 391H105.55" stroke="#000" stroke-width="1.4" fill="none"/>
<path d="M134.55 393.7V404.5M127.25 393.7H141.85M127.25 404.5H141.85" stroke="#000" stroke-width="1.4" fill="none"/>
<path d="M170.65 382.8V398.1M163.35 382.8H177.95M163.35 398.1H177.95" stroke="#000" stroke-width="1.4" fill="none"/>
<path d="M225.55 419.9V429M218.25 419.9H232.85M218.25 429H232.85" stroke="#000" stroke-width="1.4" fill="none"/>
<path d="M261.55 415V425.9M254.25 415H268.85M254.25 425.9H268.85" stroke="#000" stroke-width="1.4" fill="none"/>
<path d="M297.55 418.5V429.5M290.25 418.5H304.85M290.25 429.5H304.85" stroke="#000" stroke-width="1.4" fill="none"/>
<path d="M75.2 345.6V511M69.9 511H322.4" stroke="#000" stroke-width="2.5" fill="none" stroke-linecap="butt"/>
<text x="67.6" y="515.6" text-anchor="end" font-size="12.3" font-weight="bold">2.5</text>
<text x="67.6" y="474.5" text-anchor="end" font-size="12.3" font-weight="bold">3.0</text>
<text x="67.6" y="433.4" text-anchor="end" font-size="12.3" font-weight="bold">3.5</text>
<text x="67.6" y="392.3" text-anchor="end" font-size="12.3" font-weight="bold">4.0</text>
<text x="67.6" y="351.2" text-anchor="end" font-size="12.3" font-weight="bold">4.5</text>
<path d="M69.9 511H75.2M69.9 469.9H75.2M69.9 428.8H75.2M69.9 387.7H75.2M69.9 346.6H75.2" stroke="#000" stroke-width="2" fill="none"/>
<text transform="translate(101.75,526.6) rotate(-45)" text-anchor="end" font-size="11.5" font-weight="bold">control 6w</text>
<text transform="translate(138.05,526.6) rotate(-45)" text-anchor="end" font-size="11.5" font-weight="bold">control 9w</text>
<text transform="translate(174.15,526.6) rotate(-45)" text-anchor="end" font-size="11.5" font-weight="bold">control 12w</text>
<text transform="translate(229.05,526.6) rotate(-45)" text-anchor="end" font-size="11.5" font-weight="bold">STZ 6w</text>
<text transform="translate(265.05,526.6) rotate(-45)" text-anchor="end" font-size="11.5" font-weight="bold">STZ 9w</text>
<text transform="translate(301.05,526.6) rotate(-45)" text-anchor="end" font-size="11.5" font-weight="bold">STZ 12w</text>
<text x="225.8" y="368.7" text-anchor="middle" font-size="15.0" font-weight="normal" letter-spacing="1.6" stroke="#000" stroke-width="0.35">****</text>
<text x="262.4" y="368.7" text-anchor="middle" font-size="15.0" font-weight="normal" letter-spacing="1.6" stroke="#000" stroke-width="0.35">*</text>
<text x="299.2" y="368.7" text-anchor="middle" font-size="15.0" font-weight="normal" letter-spacing="1.6" stroke="#000" stroke-width="0.35">***</text>
<text transform="translate(409.4,321.6) scale(1,1.05)" font-size="26.5" font-weight="bold">d</text>
<text transform="translate(385.5,428.6) rotate(-90)" text-anchor="middle" font-size="14.2" textLength="163.4" lengthAdjust="spacing">end-diastolic LV volume (µl)</text>
<rect x="445.8" y="394.8" width="29.5" height="115.8" fill="white" stroke="#000" stroke-width="1.6"/>
<rect x="481.9" y="405.6" width="29.5" height="105" fill="white" stroke="#000" stroke-width="1.6"/>
<rect x="517.9" y="397.9" width="29.5" height="112.7" fill="white" stroke="#000" stroke-width="1.6"/>
<rect x="572.7" y="424.4" width="29.5" height="86.2" fill="#EBE5C9" stroke="#000" stroke-width="1.6"/>
<rect x="608.8" y="421.2" width="29.5" height="89.4" fill="#EBE5C9" stroke="#000" stroke-width="1.6"/>
<rect x="644.9" y="423.5" width="29.5" height="87.1" fill="#EBE5C9" stroke="#000" stroke-width="1.6"/>
<circle cx="460.6" cy="365.7" r="2.45" fill="#ddd" stroke="#000" stroke-width="1.6"/>
<circle cx="447.5" cy="387.2" r="2.45" fill="#ddd" stroke="#000" stroke-width="1.6"/>
<circle cx="456.2" cy="385.6" r="2.45" fill="#ddd" stroke="#000" stroke-width="1.6"/>
<circle cx="465.1" cy="386.5" r="2.45" fill="#ddd" stroke="#000" stroke-width="1.6"/>
<circle cx="456.2" cy="390.6" r="2.45" fill="#ddd" stroke="#000" stroke-width="1.6"/>
<circle cx="465.1" cy="392.6" r="2.45" fill="#ddd" stroke="#000" stroke-width="1.6"/>
<circle cx="447.5" cy="393.6" r="2.45" fill="#ddd" stroke="#000" stroke-width="1.6"/>
<circle cx="474" cy="391" r="2.45" fill="#ddd" stroke="#000" stroke-width="1.6"/>
<circle cx="456.2" cy="405.5" r="2.45" fill="#ddd" stroke="#000" stroke-width="1.6"/>
<circle cx="465.1" cy="404.5" r="2.45" fill="#ddd" stroke="#000" stroke-width="1.6"/>
<circle cx="456.2" cy="415.5" r="2.45" fill="#ddd" stroke="#000" stroke-width="1.6"/>
<circle cx="465.1" cy="413.9" r="2.45" fill="#ddd" stroke="#000" stroke-width="1.6"/>
<circle cx="483.5" cy="390.4" r="2.45" fill="#ddd" stroke="#000" stroke-width="1.6"/>
<circle cx="492.2" cy="388.9" r="2.45" fill="#ddd" stroke="#000" stroke-width="1.6"/>
<circle cx="510" cy="389.4" r="2.45" fill="#ddd" stroke="#000" stroke-width="1.6"/>
<circle cx="483.5" cy="398" r="2.45" fill="#ddd" stroke="#000" stroke-width="1.6"/>
<circle cx="492.2" cy="395.9" r="2.45" fill="#ddd" stroke="#000" stroke-width="1.6"/>
<circle cx="501.1" cy="394.8" r="2.45" fill="#ddd" stroke="#000" stroke-width="1.6"/>
<circle cx="510" cy="396.8" r="2.45" fill="#ddd" stroke="#000" stroke-width="1.6"/>
<circle cx="483.5" cy="415" r="2.45" fill="#ddd" stroke="#000" stroke-width="1.6"/>
<circle cx="501.1" cy="415.8" r="2.45" fill="#ddd" stroke="#000" stroke-width="1.6"/>
<circle cx="492.2" cy="419.9" r="2.45" fill="#ddd" stroke="#000" stroke-width="1.6"/>
<circle cx="492.2" cy="425.3" r="2.45" fill="#ddd" stroke="#000" stroke-width="1.6"/>
<circle cx="501.1" cy="425.3" r="2.45" fill="#ddd" stroke="#000" stroke-width="1.6"/>
<circle cx="532.6" cy="369.8" r="2.45" fill="#ddd" stroke="#000" stroke-width="1.6"/>
<circle cx="519.4" cy="386.9" r="2.45" fill="#ddd" stroke="#000" stroke-width="1.6"/>
<circle cx="526" cy="388.9" r="2.45" fill="#ddd" stroke="#000" stroke-width="1.6"/>
<circle cx="532.6" cy="386.9" r="2.45" fill="#ddd" stroke="#000" stroke-width="1.6"/>
<circle cx="545.9" cy="381.9" r="2.45" fill="#ddd" stroke="#000" stroke-width="1.6"/>
<circle cx="545.9" cy="387.7" r="2.45" fill="#ddd" stroke="#000" stroke-width="1.6"/>
<circle cx="539.3" cy="390.9" r="2.45" fill="#ddd" stroke="#000" stroke-width="1.6"/>
<circle cx="526" cy="394.1" r="2.45" fill="#ddd" stroke="#000" stroke-width="1.6"/>
<circle cx="536.1" cy="404.8" r="2.45" fill="#ddd" stroke="#000" stroke-width="1.6"/>
<circle cx="529.4" cy="407.6" r="2.45" fill="#ddd" stroke="#000" stroke-width="1.6"/>
<circle cx="532.6" cy="422.4" r="2.45" fill="#ddd" stroke="#000" stroke-width="1.6"/>
<circle cx="532.6" cy="443.4" r="2.45" fill="#ddd" stroke="#000" stroke-width="1.6"/>
<path d="M581.1 403.95L583.7 409.25L578.5 409.25Z" fill="#777" stroke="#000" stroke-width="1.7" stroke-linejoin="round"/>
<path d="M587.6 401.45L590.2 406.75L585 406.75Z" fill="#777" stroke="#000" stroke-width="1.7" stroke-linejoin="round"/>
<path d="M594.1 405.55L596.7 410.85L591.5 410.85Z" fill="#777" stroke="#000" stroke-width="1.7" stroke-linejoin="round"/>
<path d="M581.1 410.75L583.7 416.05L578.5 416.05Z" fill="#777" stroke="#000" stroke-width="1.7" stroke-linejoin="round"/>
<path d="M594.1 411.15L596.7 416.45L591.5 416.45Z" fill="#777" stroke="#000" stroke-width="1.7" stroke-linejoin="round"/>
<path d="M587.6 420.85L590.2 426.15L585 426.15Z" fill="#777" stroke="#000" stroke-width="1.7" stroke-linejoin="round"/>
<path d="M574.3 426.55L576.9 431.85L571.7 431.85Z" fill="#777" stroke="#000" stroke-width="1.7" stroke-linejoin="round"/>
<path d="M581.1 424.95L583.7 430.25L578.5 430.25Z" fill="#777" stroke="#000" stroke-width="1.7" stroke-linejoin="round"/>
<path d="M601 424.55L603.6 429.85L598.4 429.85Z" fill="#777" stroke="#000" stroke-width="1.7" stroke-linejoin="round"/>
<path d="M587.6 428.95L590.2 434.25L585 434.25Z" fill="#777" stroke="#000" stroke-width="1.7" stroke-linejoin="round"/>
<path d="M594.1 428.55L596.7 433.85L591.5 433.85Z" fill="#777" stroke="#000" stroke-width="1.7" stroke-linejoin="round"/>
<path d="M587.6 434.65L590.2 439.95L585 439.95Z" fill="#777" stroke="#000" stroke-width="1.7" stroke-linejoin="round"/>
<path d="M581.1 436.65L583.7 441.95L578.5 441.95Z" fill="#777" stroke="#000" stroke-width="1.7" stroke-linejoin="round"/>
<path d="M594.1 436.25L596.7 441.55L591.5 441.55Z" fill="#777" stroke="#000" stroke-width="1.7" stroke-linejoin="round"/>
<path d="M623.6 400.35L626.2 405.65L621 405.65Z" fill="#777" stroke="#000" stroke-width="1.7" stroke-linejoin="round"/>
<path d="M614.6 407.15L617.2 412.45L612 412.45Z" fill="#777" stroke="#000" stroke-width="1.7" stroke-linejoin="round"/>
<path d="M623.6 406.05L626.2 411.35L621 411.35Z" fill="#777" stroke="#000" stroke-width="1.7" stroke-linejoin="round"/>
<path d="M632.6 405.05L635.2 410.35L630 410.35Z" fill="#777" stroke="#000" stroke-width="1.7" stroke-linejoin="round"/>
<path d="M619.1 413.15L621.7 418.45L616.5 418.45Z" fill="#777" stroke="#000" stroke-width="1.7" stroke-linejoin="round"/>
<path d="M636.8 413.85L639.4 419.15L634.2 419.15Z" fill="#777" stroke="#000" stroke-width="1.7" stroke-linejoin="round"/>
<path d="M610.3 417.45L612.9 422.75L607.7 422.75Z" fill="#777" stroke="#000" stroke-width="1.7" stroke-linejoin="round"/>
<path d="M619.1 418.05L621.7 423.35L616.5 423.35Z" fill="#777" stroke="#000" stroke-width="1.7" stroke-linejoin="round"/>
<path d="M610.3 422.65L612.9 427.95L607.7 427.95Z" fill="#777" stroke="#000" stroke-width="1.7" stroke-linejoin="round"/>
<path d="M619.1 422.15L621.7 427.45L616.5 427.45Z" fill="#777" stroke="#000" stroke-width="1.7" stroke-linejoin="round"/>
<path d="M628 421.65L630.6 426.95L625.4 426.95Z" fill="#777" stroke="#000" stroke-width="1.7" stroke-linejoin="round"/>
<path d="M636.8 420.45L639.4 425.75L634.2 425.75Z" fill="#777" stroke="#000" stroke-width="1.7" stroke-linejoin="round"/>
<path d="M619.1 426.05L621.7 431.35L616.5 431.35Z" fill="#777" stroke="#000" stroke-width="1.7" stroke-linejoin="round"/>
<path d="M623.6 433.95L626.2 439.25L621 439.25Z" fill="#777" stroke="#000" stroke-width="1.7" stroke-linejoin="round"/>
<path d="M623.6 452.35L626.2 457.65L621 457.65Z" fill="#777" stroke="#000" stroke-width="1.7" stroke-linejoin="round"/>
<path d="M662.4 398.65L665 403.95L659.8 403.95Z" fill="#777" stroke="#000" stroke-width="1.7" stroke-linejoin="round"/>
<path d="M656.9 402.35L659.5 407.65L654.3 407.65Z" fill="#777" stroke="#000" stroke-width="1.7" stroke-linejoin="round"/>
<path d="M662.4 409.55L665 414.85L659.8 414.85Z" fill="#777" stroke="#000" stroke-width="1.7" stroke-linejoin="round"/>
<path d="M656.9 413.25L659.5 418.55L654.3 418.55Z" fill="#777" stroke="#000" stroke-width="1.7" stroke-linejoin="round"/>
<path d="M662.4 415.25L665 420.55L659.8 420.55Z" fill="#777" stroke="#000" stroke-width="1.7" stroke-linejoin="round"/>
<path d="M646.3 418.85L648.9 424.15L643.7 424.15Z" fill="#777" stroke="#000" stroke-width="1.7" stroke-linejoin="round"/>
<path d="M656.9 420.45L659.5 425.75L654.3 425.75Z" fill="#777" stroke="#000" stroke-width="1.7" stroke-linejoin="round"/>
<path d="M662.4 418.85L665 424.15L659.8 424.15Z" fill="#777" stroke="#000" stroke-width="1.7" stroke-linejoin="round"/>
<path d="M667.7 421.35L670.3 426.65L665.1 426.65Z" fill="#777" stroke="#000" stroke-width="1.7" stroke-linejoin="round"/>
<path d="M651.5 424.15L654.1 429.45L648.9 429.45Z" fill="#777" stroke="#000" stroke-width="1.7" stroke-linejoin="round"/>
<path d="M673 423.75L675.6 429.05L670.4 429.05Z" fill="#777" stroke="#000" stroke-width="1.7" stroke-linejoin="round"/>
<path d="M662.4 422.15L665 427.45L659.8 427.45Z" fill="#777" stroke="#000" stroke-width="1.7" stroke-linejoin="round"/>
<path d="M659.6 431.45L662.2 436.75L657 436.75Z" fill="#777" stroke="#000" stroke-width="1.7" stroke-linejoin="round"/>
<path d="M662.4 437.45L665 442.75L659.8 442.75Z" fill="#777" stroke="#000" stroke-width="1.7" stroke-linejoin="round"/>
<path d="M656.9 439.45L659.5 444.75L654.3 444.75Z" fill="#777" stroke="#000" stroke-width="1.7" stroke-linejoin="round"/>
<path d="M460.55 390.4V398.5M453.25 390.4H467.85M453.25 398.5H467.85" stroke="#000" stroke-width="1.4" fill="none"/>
<path d="M496.65 400.5V408.8M489.35 400.5H503.95M489.35 408.8H503.95" stroke="#000" stroke-width="1.4" fill="none"/>
<path d="M532.65 391.2V403M525.35 391.2H539.95M525.35 403H539.95" stroke="#000" stroke-width="1.4" fill="none"/>
<path d="M587.45 420.3V426.8M580.15 420.3H594.75M580.15 426.8H594.75" stroke="#000" stroke-width="1.4" fill="none"/>
<path d="M623.55 417.5V425M616.25 417.5H630.85M616.25 425H630.85" stroke="#000" stroke-width="1.4" fill="none"/>
<path d="M659.65 419.1V428M652.35 419.1H666.95M652.35 428H666.95" stroke="#000" stroke-width="1.4" fill="none"/>
<path d="M437 345.6V510.6M431.7 510.6H684.8" stroke="#000" stroke-width="2.5" fill="none" stroke-linecap="butt"/>
<text x="429.4" y="515.2" text-anchor="end" font-size="12.3" font-weight="bold">0</text>
<text x="429.4" y="482.4" text-anchor="end" font-size="12.3" font-weight="bold">20</text>
<text x="429.4" y="449.6" text-anchor="end" font-size="12.3" font-weight="bold">40</text>
<text x="429.4" y="416.8" text-anchor="end" font-size="12.3" font-weight="bold">60</text>
<text x="429.4" y="384" text-anchor="end" font-size="12.3" font-weight="bold">80</text>
<text x="429.4" y="351.2" text-anchor="end" font-size="12.3" font-weight="bold">100</text>
<path d="M431.7 510.6H437M431.7 477.8H437M431.7 445H437M431.7 412.2H437M431.7 379.4H437M431.7 346.6H437" stroke="#000" stroke-width="2" fill="none"/>
<text transform="translate(464.05,526.2) rotate(-45)" text-anchor="end" font-size="11.5" font-weight="bold">control 6w</text>
<text transform="translate(500.15,526.2) rotate(-45)" text-anchor="end" font-size="11.5" font-weight="bold">control 9w</text>
<text transform="translate(536.15,526.2) rotate(-45)" text-anchor="end" font-size="11.5" font-weight="bold">control 12w</text>
<text transform="translate(590.95,526.2) rotate(-45)" text-anchor="end" font-size="11.5" font-weight="bold">STZ 6w</text>
<text transform="translate(627.05,526.2) rotate(-45)" text-anchor="end" font-size="11.5" font-weight="bold">STZ 9w</text>
<text transform="translate(663.15,526.2) rotate(-45)" text-anchor="end" font-size="11.5" font-weight="bold">STZ 12w</text>
<text x="587.7" y="368.7" text-anchor="middle" font-size="15.0" font-weight="normal" letter-spacing="1.6" stroke="#000" stroke-width="0.35">****</text>
<text x="624.2" y="368.7" text-anchor="middle" font-size="15.0" font-weight="normal" letter-spacing="1.6" stroke="#000" stroke-width="0.35">*</text>
<text x="661" y="368.7" text-anchor="middle" font-size="15.0" font-weight="normal" letter-spacing="1.6" stroke="#000" stroke-width="0.35">***</text>
<text transform="translate(49.4,614.4) scale(1,1.05)" font-size="26.5" font-weight="bold">e</text>
<text transform="translate(25.5,723.5) rotate(-90)" text-anchor="middle" font-size="14.2" textLength="110.9" lengthAdjust="spacing">diastolic wall strain</text>
<rect x="82.9" y="723.3" width="29.5" height="83.3" fill="white" stroke="#000" stroke-width="1.6"/>
<rect x="119.1" y="724.6" width="29.5" height="82" fill="white" stroke="#000" stroke-width="1.6"/>
<rect x="155.4" y="721.2" width="29.5" height="85.4" fill="white" stroke="#000" stroke-width="1.6"/>
<rect x="210" y="709.2" width="29.5" height="97.4" fill="#EBE5C9" stroke="#000" stroke-width="1.6"/>
<rect x="246.2" y="739.9" width="29.5" height="66.7" fill="#EBE5C9" stroke="#000" stroke-width="1.6"/>
<rect x="282.3" y="715.7" width="29.5" height="90.9" fill="#EBE5C9" stroke="#000" stroke-width="1.6"/>
<circle cx="97.8" cy="699.5" r="2.45" fill="#ddd" stroke="#000" stroke-width="1.6"/>
<circle cx="87.8" cy="705" r="2.45" fill="#ddd" stroke="#000" stroke-width="1.6"/>
<circle cx="97.8" cy="708" r="2.45" fill="#ddd" stroke="#000" stroke-width="1.6"/>
<circle cx="97.8" cy="715.9" r="2.45" fill="#ddd" stroke="#000" stroke-width="1.6"/>
<circle cx="87.8" cy="718.5" r="2.45" fill="#ddd" stroke="#000" stroke-width="1.6"/>
<circle cx="107.7" cy="721.1" r="2.45" fill="#ddd" stroke="#000" stroke-width="1.6"/>
<circle cx="87.8" cy="724.4" r="2.45" fill="#ddd" stroke="#000" stroke-width="1.6"/>
<circle cx="97.8" cy="726.8" r="2.45" fill="#ddd" stroke="#000" stroke-width="1.6"/>
<circle cx="107.7" cy="727.2" r="2.45" fill="#ddd" stroke="#000" stroke-width="1.6"/>
<circle cx="97.8" cy="738.1" r="2.45" fill="#ddd" stroke="#000" stroke-width="1.6"/>
<circle cx="102.7" cy="743.5" r="2.45" fill="#ddd" stroke="#000" stroke-width="1.6"/>
<circle cx="92.8" cy="746.4" r="2.45" fill="#ddd" stroke="#000" stroke-width="1.6"/>
<circle cx="133.8" cy="699.7" r="2.45" fill="#ddd" stroke="#000" stroke-width="1.6"/>
<circle cx="133.8" cy="707.6" r="2.45" fill="#ddd" stroke="#000" stroke-width="1.6"/>
<circle cx="123.9" cy="713.3" r="2.45" fill="#ddd" stroke="#000" stroke-width="1.6"/>
<circle cx="133.8" cy="713.6" r="2.45" fill="#ddd" stroke="#000" stroke-width="1.6"/>
<circle cx="143.7" cy="713.1" r="2.45" fill="#ddd" stroke="#000" stroke-width="1.6"/>
<circle cx="133.8" cy="719.1" r="2.45" fill="#ddd" stroke="#000" stroke-width="1.6"/>
<circle cx="143.7" cy="719.1" r="2.45" fill="#ddd" stroke="#000" stroke-width="1.6"/>
<circle cx="123.9" cy="721.4" r="2.45" fill="#ddd" stroke="#000" stroke-width="1.6"/>
<circle cx="128.9" cy="735.3" r="2.45" fill="#ddd" stroke="#000" stroke-width="1.6"/>
<circle cx="138.9" cy="735.3" r="2.45" fill="#ddd" stroke="#000" stroke-width="1.6"/>
<circle cx="133.8" cy="749.1" r="2.45" fill="#ddd" stroke="#000" stroke-width="1.6"/>
<circle cx="133.8" cy="757.4" r="2.45" fill="#ddd" stroke="#000" stroke-width="1.6"/>
<circle cx="174.2" cy="696.8" r="2.45" fill="#ddd" stroke="#000" stroke-width="1.6"/>
<circle cx="165.4" cy="699.6" r="2.45" fill="#ddd" stroke="#000" stroke-width="1.6"/>
<circle cx="156.5" cy="710.6" r="2.45" fill="#ddd" stroke="#000" stroke-width="1.6"/>
<circle cx="165.4" cy="710.3" r="2.45" fill="#ddd" stroke="#000" stroke-width="1.6"/>
<circle cx="183.3" cy="710.6" r="2.45" fill="#ddd" stroke="#000" stroke-width="1.6"/>
<circle cx="174.2" cy="713.1" r="2.45" fill="#ddd" stroke="#000" stroke-width="1.6"/>
<circle cx="174.2" cy="718.9" r="2.45" fill="#ddd" stroke="#000" stroke-width="1.6"/>
<circle cx="165.4" cy="721.7" r="2.45" fill="#ddd" stroke="#000" stroke-width="1.6"/>
<circle cx="174.2" cy="724.3" r="2.45" fill="#ddd" stroke="#000" stroke-width="1.6"/>
<circle cx="165.4" cy="735.5" r="2.45" fill="#ddd" stroke="#000" stroke-width="1.6"/>
<circle cx="174.2" cy="738" r="2.45" fill="#ddd" stroke="#000" stroke-width="1.6"/>
<circle cx="169.8" cy="768.2" r="2.45" fill="#ddd" stroke="#000" stroke-width="1.6"/>
<path d="M225 677.85L227.6 683.15L222.4 683.15Z" fill="#777" stroke="#000" stroke-width="1.7" stroke-linejoin="round"/>
<path d="M215.3 691.65L217.9 696.95L212.7 696.95Z" fill="#777" stroke="#000" stroke-width="1.7" stroke-linejoin="round"/>
<path d="M225 688.75L227.6 694.05L222.4 694.05Z" fill="#777" stroke="#000" stroke-width="1.7" stroke-linejoin="round"/>
<path d="M234.7 688.75L237.3 694.05L232.1 694.05Z" fill="#777" stroke="#000" stroke-width="1.7" stroke-linejoin="round"/>
<path d="M234.7 694.45L237.3 699.75L232.1 699.75Z" fill="#777" stroke="#000" stroke-width="1.7" stroke-linejoin="round"/>
<path d="M225 704.95L227.6 710.25L222.4 710.25Z" fill="#777" stroke="#000" stroke-width="1.7" stroke-linejoin="round"/>
<path d="M215.3 711.85L217.9 717.15L212.7 717.15Z" fill="#777" stroke="#000" stroke-width="1.7" stroke-linejoin="round"/>
<path d="M225 711.45L227.6 716.75L222.4 716.75Z" fill="#777" stroke="#000" stroke-width="1.7" stroke-linejoin="round"/>
<path d="M234.7 713.85L237.3 719.15L232.1 719.15Z" fill="#777" stroke="#000" stroke-width="1.7" stroke-linejoin="round"/>
<path d="M215.3 716.65L217.9 721.95L212.7 721.95Z" fill="#777" stroke="#000" stroke-width="1.7" stroke-linejoin="round"/>
<path d="M225 716.65L227.6 721.95L222.4 721.95Z" fill="#777" stroke="#000" stroke-width="1.7" stroke-linejoin="round"/>
<path d="M234.7 719.45L237.3 724.75L232.1 724.75Z" fill="#777" stroke="#000" stroke-width="1.7" stroke-linejoin="round"/>
<path d="M225 722.35L227.6 727.65L222.4 727.65Z" fill="#777" stroke="#000" stroke-width="1.7" stroke-linejoin="round"/>
<path d="M225 730.05L227.6 735.35L222.4 735.35Z" fill="#777" stroke="#000" stroke-width="1.7" stroke-linejoin="round"/>
<path d="M256.6 702.75L259.2 708.05L254 708.05Z" fill="#777" stroke="#000" stroke-width="1.7" stroke-linejoin="round"/>
<path d="M265.5 705.35L268.1 710.65L262.9 710.65Z" fill="#777" stroke="#000" stroke-width="1.7" stroke-linejoin="round"/>
<path d="M265.5 721.95L268.1 727.25L262.9 727.25Z" fill="#777" stroke="#000" stroke-width="1.7" stroke-linejoin="round"/>
<path d="M256.6 724.55L259.2 729.85L254 729.85Z" fill="#777" stroke="#000" stroke-width="1.7" stroke-linejoin="round"/>
<path d="M274.3 732.35L276.9 737.65L271.7 737.65Z" fill="#777" stroke="#000" stroke-width="1.7" stroke-linejoin="round"/>
<path d="M247.8 735.45L250.4 740.75L245.2 740.75Z" fill="#777" stroke="#000" stroke-width="1.7" stroke-linejoin="round"/>
<path d="M265.5 734.95L268.1 740.25L262.9 740.25Z" fill="#777" stroke="#000" stroke-width="1.7" stroke-linejoin="round"/>
<path d="M256.6 738.05L259.2 743.35L254 743.35Z" fill="#777" stroke="#000" stroke-width="1.7" stroke-linejoin="round"/>
<path d="M274.3 738.05L276.9 743.35L271.7 743.35Z" fill="#777" stroke="#000" stroke-width="1.7" stroke-linejoin="round"/>
<path d="M256.6 743.85L259.2 749.15L254 749.15Z" fill="#777" stroke="#000" stroke-width="1.7" stroke-linejoin="round"/>
<path d="M265.5 743.85L268.1 749.15L262.9 749.15Z" fill="#777" stroke="#000" stroke-width="1.7" stroke-linejoin="round"/>
<path d="M261.1 754.75L263.7 760.05L258.5 760.05Z" fill="#777" stroke="#000" stroke-width="1.7" stroke-linejoin="round"/>
<path d="M261.1 763.05L263.7 768.35L258.5 768.35Z" fill="#777" stroke="#000" stroke-width="1.7" stroke-linejoin="round"/>
<path d="M261.1 773.95L263.7 779.25L258.5 779.25Z" fill="#777" stroke="#000" stroke-width="1.7" stroke-linejoin="round"/>
<path d="M297.3 672.25L299.9 677.55L294.7 677.55Z" fill="#777" stroke="#000" stroke-width="1.7" stroke-linejoin="round"/>
<path d="M297.3 688.85L299.9 694.15L294.7 694.15Z" fill="#777" stroke="#000" stroke-width="1.7" stroke-linejoin="round"/>
<path d="M287.4 702.35L290 707.65L284.8 707.65Z" fill="#777" stroke="#000" stroke-width="1.7" stroke-linejoin="round"/>
<path d="M297.3 699.75L299.9 705.05L294.7 705.05Z" fill="#777" stroke="#000" stroke-width="1.7" stroke-linejoin="round"/>
<path d="M307.2 702.35L309.8 707.65L304.6 707.65Z" fill="#777" stroke="#000" stroke-width="1.7" stroke-linejoin="round"/>
<path d="M297.3 708.05L299.9 713.35L294.7 713.35Z" fill="#777" stroke="#000" stroke-width="1.7" stroke-linejoin="round"/>
<path d="M292.1 713.25L294.7 718.55L289.5 718.55Z" fill="#777" stroke="#000" stroke-width="1.7" stroke-linejoin="round"/>
<path d="M302.5 713.25L305.1 718.55L299.9 718.55Z" fill="#777" stroke="#000" stroke-width="1.7" stroke-linejoin="round"/>
<path d="M292.1 719.05L294.7 724.35L289.5 724.35Z" fill="#777" stroke="#000" stroke-width="1.7" stroke-linejoin="round"/>
<path d="M302.5 719.05L305.1 724.35L299.9 724.35Z" fill="#777" stroke="#000" stroke-width="1.7" stroke-linejoin="round"/>
<path d="M292.1 727.35L294.7 732.65L289.5 732.65Z" fill="#777" stroke="#000" stroke-width="1.7" stroke-linejoin="round"/>
<path d="M302.5 727.35L305.1 732.65L299.9 732.65Z" fill="#777" stroke="#000" stroke-width="1.7" stroke-linejoin="round"/>
<path d="M297.3 733.55L299.9 738.85L294.7 738.85Z" fill="#777" stroke="#000" stroke-width="1.7" stroke-linejoin="round"/>
<path d="M297.3 743.95L299.9 749.25L294.7 749.25Z" fill="#777" stroke="#000" stroke-width="1.7" stroke-linejoin="round"/>
<path d="M97.65 718.7V726.8M90.35 718.7H104.95M90.35 726.8H104.95" stroke="#000" stroke-width="1.4" fill="none"/>
<path d="M133.85 718.2V728.6M126.55 718.2H141.15M126.55 728.6H141.15" stroke="#000" stroke-width="1.4" fill="none"/>
<path d="M170.15 714.7V726.2M162.85 714.7H177.45M162.85 726.2H177.45" stroke="#000" stroke-width="1.4" fill="none"/>
<path d="M224.75 704.4V712.2M217.45 704.4H232.05M217.45 712.2H232.05" stroke="#000" stroke-width="1.4" fill="none"/>
<path d="M260.95 734V743.3M253.65 734H268.25M253.65 743.3H268.25" stroke="#000" stroke-width="1.4" fill="none"/>
<path d="M297.05 709.5V719M289.75 709.5H304.35M289.75 719H304.35" stroke="#000" stroke-width="1.4" fill="none"/>
<path d="M74.4 640.6V806.6M69.1 806.6H321.6" stroke="#000" stroke-width="2.5" fill="none" stroke-linecap="butt"/>
<text x="66.8" y="811.2" text-anchor="end" font-size="12.3" font-weight="bold">0.0</text>
<text x="66.8" y="756.2" text-anchor="end" font-size="12.3" font-weight="bold">0.2</text>
<text x="66.8" y="701.2" text-anchor="end" font-size="12.3" font-weight="bold">0.4</text>
<text x="66.8" y="646.2" text-anchor="end" font-size="12.3" font-weight="bold">0.6</text>
<path d="M69.1 806.6H74.4M69.1 751.6H74.4M69.1 696.6H74.4M69.1 641.6H74.4" stroke="#000" stroke-width="2" fill="none"/>
<text transform="translate(101.15,822.2) rotate(-45)" text-anchor="end" font-size="11.5" font-weight="bold">control 6w</text>
<text transform="translate(137.35,822.2) rotate(-45)" text-anchor="end" font-size="11.5" font-weight="bold">control 9w</text>
<text transform="translate(173.65,822.2) rotate(-45)" text-anchor="end" font-size="11.5" font-weight="bold">control 12w</text>
<text transform="translate(228.25,822.2) rotate(-45)" text-anchor="end" font-size="11.5" font-weight="bold">STZ 6w</text>
<text transform="translate(264.45,822.2) rotate(-45)" text-anchor="end" font-size="11.5" font-weight="bold">STZ 9w</text>
<text transform="translate(300.55,822.2) rotate(-45)" text-anchor="end" font-size="11.5" font-weight="bold">STZ 12w</text>
<text x="225.1" y="664.1" text-anchor="middle" font-size="15.0" font-weight="normal" letter-spacing="1.6" stroke="#000" stroke-width="0.35">*</text>
<text x="262.4" y="664.1" text-anchor="middle" font-size="15.0" font-weight="normal" letter-spacing="1.6" stroke="#000" stroke-width="0.35">*</text>
<path d="M250.8 631.9V643.9M247.6 635.5H254M258 631.9V643.9M254.8 635.5H261.2M265.2 631.9V643.9M262 635.5H268.4M272.4 631.9V643.9M269.2 635.5H275.6" stroke="#000" stroke-width="1.6" fill="none"/>
<path d="M290.3 631.9V643.9M287.3 635.02H293.3M287.3 640.78H293.3M297.5 631.9V643.9M294.5 635.02H300.5M294.5 640.78H300.5M304.7 631.9V643.9M301.7 635.02H307.7M301.7 640.78H307.7" stroke="#000" stroke-width="1.6" fill="none"/>
</svg>
</body></html>
